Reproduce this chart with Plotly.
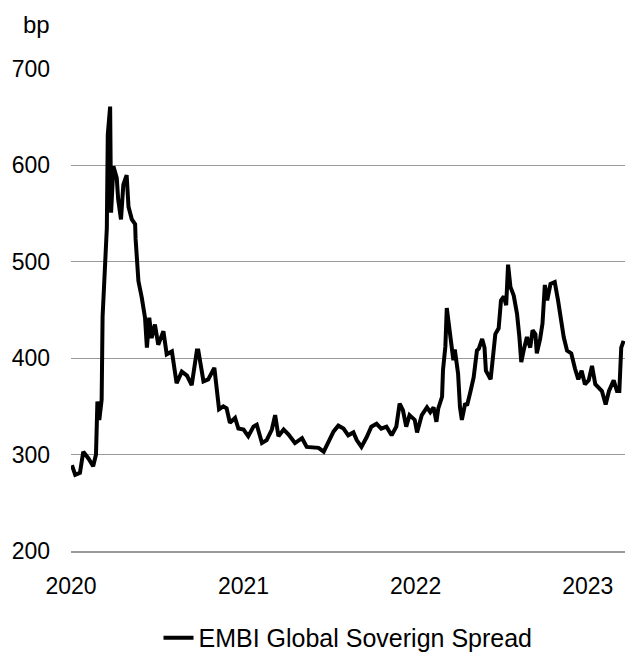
import plotly.graph_objects as go

dates = [
    "2020-01-03", "2020-01-10", "2020-01-20", "2020-01-27", "2020-02-07", "2020-02-17", "2020-02-23",
    "2020-02-26", "2020-03-01", "2020-03-06", "2020-03-08", "2020-03-13", "2020-03-17", "2020-03-19",
    "2020-03-24", "2020-03-26", "2020-03-31", "2020-04-07", "2020-04-10", "2020-04-16", "2020-04-21",
    "2020-04-28", "2020-05-02", "2020-05-09", "2020-05-16", "2020-05-17", "2020-05-23", "2020-05-30",
    "2020-06-06", "2020-06-10", "2020-06-15", "2020-06-20", "2020-06-27", "2020-07-04", "2020-07-15",
    "2020-07-22", "2020-08-02", "2020-08-12", "2020-08-23", "2020-09-03", "2020-09-13", "2020-09-24",
    "2020-09-27", "2020-10-08", "2020-10-18", "2020-10-31", "2020-11-10", "2020-11-19", "2020-11-26",
    "2020-12-03", "2020-12-14", "2020-12-21", "2021-01-01", "2021-01-11", "2021-01-22", "2021-01-29",
    "2021-02-09", "2021-02-19", "2021-03-02", "2021-03-09", "2021-03-16", "2021-03-27", "2021-04-06",
    "2021-04-20", "2021-05-05", "2021-05-15", "2021-05-29", "2021-06-09", "2021-06-20", "2021-06-30",
    "2021-07-11", "2021-07-21", "2021-08-01", "2021-08-11", "2021-08-22", "2021-08-29", "2021-09-08",
    "2021-09-19", "2021-09-29", "2021-10-10", "2021-10-20", "2021-10-31", "2021-11-11", "2021-11-21",
    "2021-11-28", "2021-12-05", "2021-12-12", "2021-12-19", "2021-12-30", "2022-01-04", "2022-01-14",
    "2022-01-25", "2022-02-01", "2022-02-08", "2022-02-14", "2022-02-18", "2022-02-26", "2022-02-28",
    "2022-03-05", "2022-03-08", "2022-03-15", "2022-03-22", "2022-03-25", "2022-04-01", "2022-04-05",
    "2022-04-09", "2022-04-16", "2022-04-20", "2022-04-27", "2022-05-04", "2022-05-11", "2022-05-15",
    "2022-05-22", "2022-05-27", "2022-05-30", "2022-06-09", "2022-06-16", "2022-06-19", "2022-06-26",
    "2022-07-01", "2022-07-07", "2022-07-12", "2022-07-16", "2022-07-21", "2022-07-28", "2022-08-04",
    "2022-08-09", "2022-08-13", "2022-08-18", "2022-08-25", "2022-09-01", "2022-09-06", "2022-09-12",
    "2022-09-15", "2022-09-22", "2022-09-27", "2022-10-02", "2022-10-07", "2022-10-14", "2022-10-23",
    "2022-10-30", "2022-11-04", "2022-11-11", "2022-11-18", "2022-11-27", "2022-12-05", "2022-12-12",
    "2022-12-19", "2022-12-26", "2023-01-03", "2023-01-10", "2023-01-17", "2023-01-24", "2023-01-31",
    "2023-02-08", "2023-02-15", "2023-02-25", "2023-03-04", "2023-03-09", "2023-03-13", "2023-03-18",
]
spread = [
    289, 279, 281, 303, 296, 288, 300,
    355, 336, 357, 443, 505, 535, 632,
    661, 551, 599, 587, 565, 544, 580,
    590, 557, 544, 539, 524, 480, 463,
    442, 411, 442, 421, 435, 414, 428,
    404, 407, 374, 386, 382, 372, 408,
    408, 376, 378, 390, 347, 350, 348,
    333, 338, 327, 326, 319, 329, 331,
    312, 315, 326, 341, 319, 326, 321,
    312, 317, 308, 307, 307, 303, 314,
    324, 330, 327, 320, 323, 315, 308,
    318, 329, 332, 327, 329, 320, 329,
    353, 346, 329, 341, 336, 323, 341,
    349, 344, 349, 334, 348, 360, 388,
    412, 452, 428, 398, 409, 384, 349,
    336, 353, 351, 365, 380, 408, 410,
    420, 411, 387, 378, 411, 425, 431,
    460, 464, 455, 497, 474, 465, 446,
    422, 396, 408, 422, 411, 429, 425,
    405, 420, 436, 476, 460, 477, 479,
    460, 444, 422, 408, 405, 389, 378,
    387, 373, 377, 392, 373, 370, 366,
    352, 366, 377, 366, 366, 411, 418,
]
series_name = "EMBI Global Soverign Spread"
y_ticks = [200, 300, 400, 500, 600, 700]
x_ticks = ["2020-01-01", "2021-01-01", "2022-01-01", "2023-01-01"]
x_tick_labels = ["2020", "2021", "2022", "2023"]

FONT = "Liberation Sans, Arial, sans-serif"
FS = 23

fig = go.Figure()
fig.add_trace(go.Scatter(
    x=dates, y=spread, mode="lines", name=series_name,
    line=dict(color="#000000", width=4),
))

fig.update_layout(
    width=625, height=655,
    margin=dict(l=71, r=0, t=69, b=104, autoexpand=False),
    paper_bgcolor="white", plot_bgcolor="white",
    font=dict(family=FONT, size=FS, color="#000000"),
    showlegend=True,
    legend=dict(orientation="h", x=0.5, xanchor="center",
                yref="container", y=0.026, yanchor="middle",
                font=dict(family=FONT, size=25, color="#000000")),
    annotations=[dict(text="bp", xref="paper", yref="paper", x=-0.034, y=1.093,
                      xanchor="right", yanchor="middle", showarrow=False,
                      font=dict(family=FONT, size=24, color="#000000"))],
)
fig.update_xaxes(
    type="date", range=["2020-01-01", "2023-03-21"],
    tickvals=x_ticks, ticktext=x_tick_labels,
    showgrid=False, zeroline=False,
    showline=True, linecolor="#9a9a9a", linewidth=1.5,
    ticks="", ticklabelstandoff=14,
)
fig.update_yaxes(
    range=[200, 700], tickvals=y_ticks,
    showgrid=True, gridcolor="#9a9a9a", gridwidth=1,
    zeroline=False, showline=False, ticks="", ticklabelstandoff=20,
)

fig.write_html("out.html")
